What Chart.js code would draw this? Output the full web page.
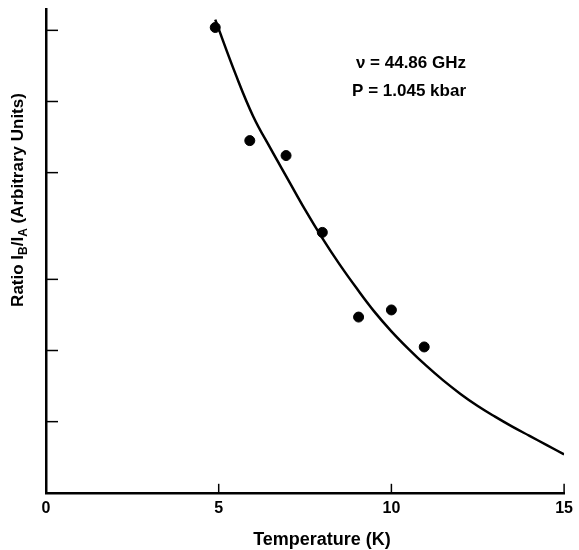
<!DOCTYPE html>
<html>
<head>
<meta charset="utf-8">
<script src="https://cdn.jsdelivr.net/npm/chart.js@4.4.1/dist/chart.umd.min.js"></script>
<style>
  html, body { margin: 0; padding: 0; background: #fff; }
  #wrap { width: 579px; height: 550px; }
</style>
</head>
<body>
<div id="wrap"><canvas id="grafico"></canvas></div>
<script>
// Pontos medidos (temperatura em K, razão IB/IA em unidades arbitrárias)
const tempPontos = [4.9, 5.9, 6.95, 8.0, 9.05, 10.0, 10.95];
const razaoPontos = [6.54, 4.95, 4.74, 3.66, 2.47, 2.57, 2.05];

// Curva ajustada
const tempCurva = [4.9, 5.5, 6.0, 6.5, 7.0, 7.5, 8.0, 8.5, 9.0, 9.5, 10.0, 10.5, 11.0, 11.5, 12.0, 12.5, 13.0, 13.5, 14.0, 14.5, 15.0];
const razaoCurva = [6.65, 5.87, 5.29, 4.84, 4.41, 3.98, 3.58, 3.21, 2.87, 2.55, 2.27, 2.02, 1.79, 1.58, 1.39, 1.22, 1.07, 0.93, 0.80, 0.67, 0.54];

// Marcas do eixo Y (sem rótulos no original)
const marcasY = [1, 2, 3, 4.5, 5.5, 6.5];
const marcasX = [5, 10, 15];

const fonte = "'Liberation Sans', Arial, sans-serif";

// Desenha marcas para dentro, títulos dos eixos e as anotações
const extras = {
    id: "extras",
    afterDraw(chart) {
        const ctx = chart.ctx;
        const x = chart.scales.x;
        const y = chart.scales.y;
        const area = chart.chartArea;
        ctx.save();
        ctx.strokeStyle = "#000";
        ctx.lineWidth = 1.5;
        marcasX.forEach(v => {
            const px = x.getPixelForValue(v);
            ctx.beginPath();
            ctx.moveTo(px, area.bottom);
            ctx.lineTo(px, area.bottom - 9);
            ctx.stroke();
        });
        marcasY.forEach(v => {
            const py = y.getPixelForValue(v);
            ctx.beginPath();
            ctx.moveTo(area.left, py);
            ctx.lineTo(area.left + 12, py);
            ctx.stroke();
        });

        // Título do eixo X
        ctx.fillStyle = "#000";
        ctx.font = "bold 18px " + fonte;
        ctx.textAlign = "center";
        ctx.textBaseline = "middle";
        ctx.fillText("Temperature (K)", 322, 540);

        // Título do eixo Y com subscritos
        ctx.textAlign = "left";
        ctx.textBaseline = "alphabetic";
        ctx.translate(23, 200);
        ctx.rotate(-Math.PI / 2);
        const partes = [
            ["Ratio I", 17, 0],
            ["B", 12, 4],
            ["/I", 17, 0],
            ["A", 12, 4],
            [" (Arbitrary Units)", 17, 0]
        ];
        let largura = 0;
        partes.forEach(p => {
            ctx.font = "bold " + p[1] + "px " + fonte;
            largura += ctx.measureText(p[0]).width;
        });
        let cx = -largura / 2;
        partes.forEach(p => {
            ctx.font = "bold " + p[1] + "px " + fonte;
            ctx.fillText(p[0], cx, p[2]);
            cx += ctx.measureText(p[0]).width;
        });
        ctx.restore();

        ctx.save();
        ctx.fillStyle = "#000";
        ctx.font = "bold 17px " + fonte;
        ctx.textAlign = "right";
        ctx.textBaseline = "middle";
        ctx.fillText("\u03BD = 44.86 GHz", 466, 63);
        ctx.fillText("P = 1.045 kbar", 466, 91);
        ctx.restore();
    }
};

new Chart(document.getElementById("grafico").getContext("2d"), {
    type: "scatter",
    data: {
        datasets: [
            {
                label: "Curva",
                type: "line",
                data: tempCurva.map((t, i) => ({ x: t, y: razaoCurva[i] })),
                borderColor: "#000",
                borderWidth: 2.5,
                pointRadius: 0,
                tension: 0.4,
                fill: false
            },
            {
                label: "Medidas",
                data: tempPontos.map((t, i) => ({ x: t, y: razaoPontos[i] })),
                backgroundColor: "#000",
                borderColor: "#000",
                pointRadius: 5,
                pointHoverRadius: 5
            }
        ]
    },
    options: {
        responsive: true,
        maintainAspectRatio: false,
        animation: false,
        layout: { padding: { left: 46, top: 9, right: 9, bottom: 26 } },
        plugins: {
            legend: { display: false },
            tooltip: { enabled: false }
        },
        scales: {
            x: {
                type: "linear",
                min: 0,
                max: 15,
                grid: { display: false, drawTicks: false },
                border: { display: true, color: "#000", width: 2.5 },
                ticks: {
                    stepSize: 5,
                    color: "#000",
                    padding: 6,
                    font: { family: fonte, size: 16, weight: "bold" }
                }
            },
            y: {
                min: 0,
                max: 6.8,
                afterBuildTicks: axis => {
                    axis.ticks = marcasY.map(v => ({ value: v }));
                },
                grid: { display: false, drawTicks: false },
                border: { display: true, color: "#000", width: 2.5 },
                ticks: { display: false }
            }
        }
    },
    plugins: [extras]
});
</script>
</body>
</html>
